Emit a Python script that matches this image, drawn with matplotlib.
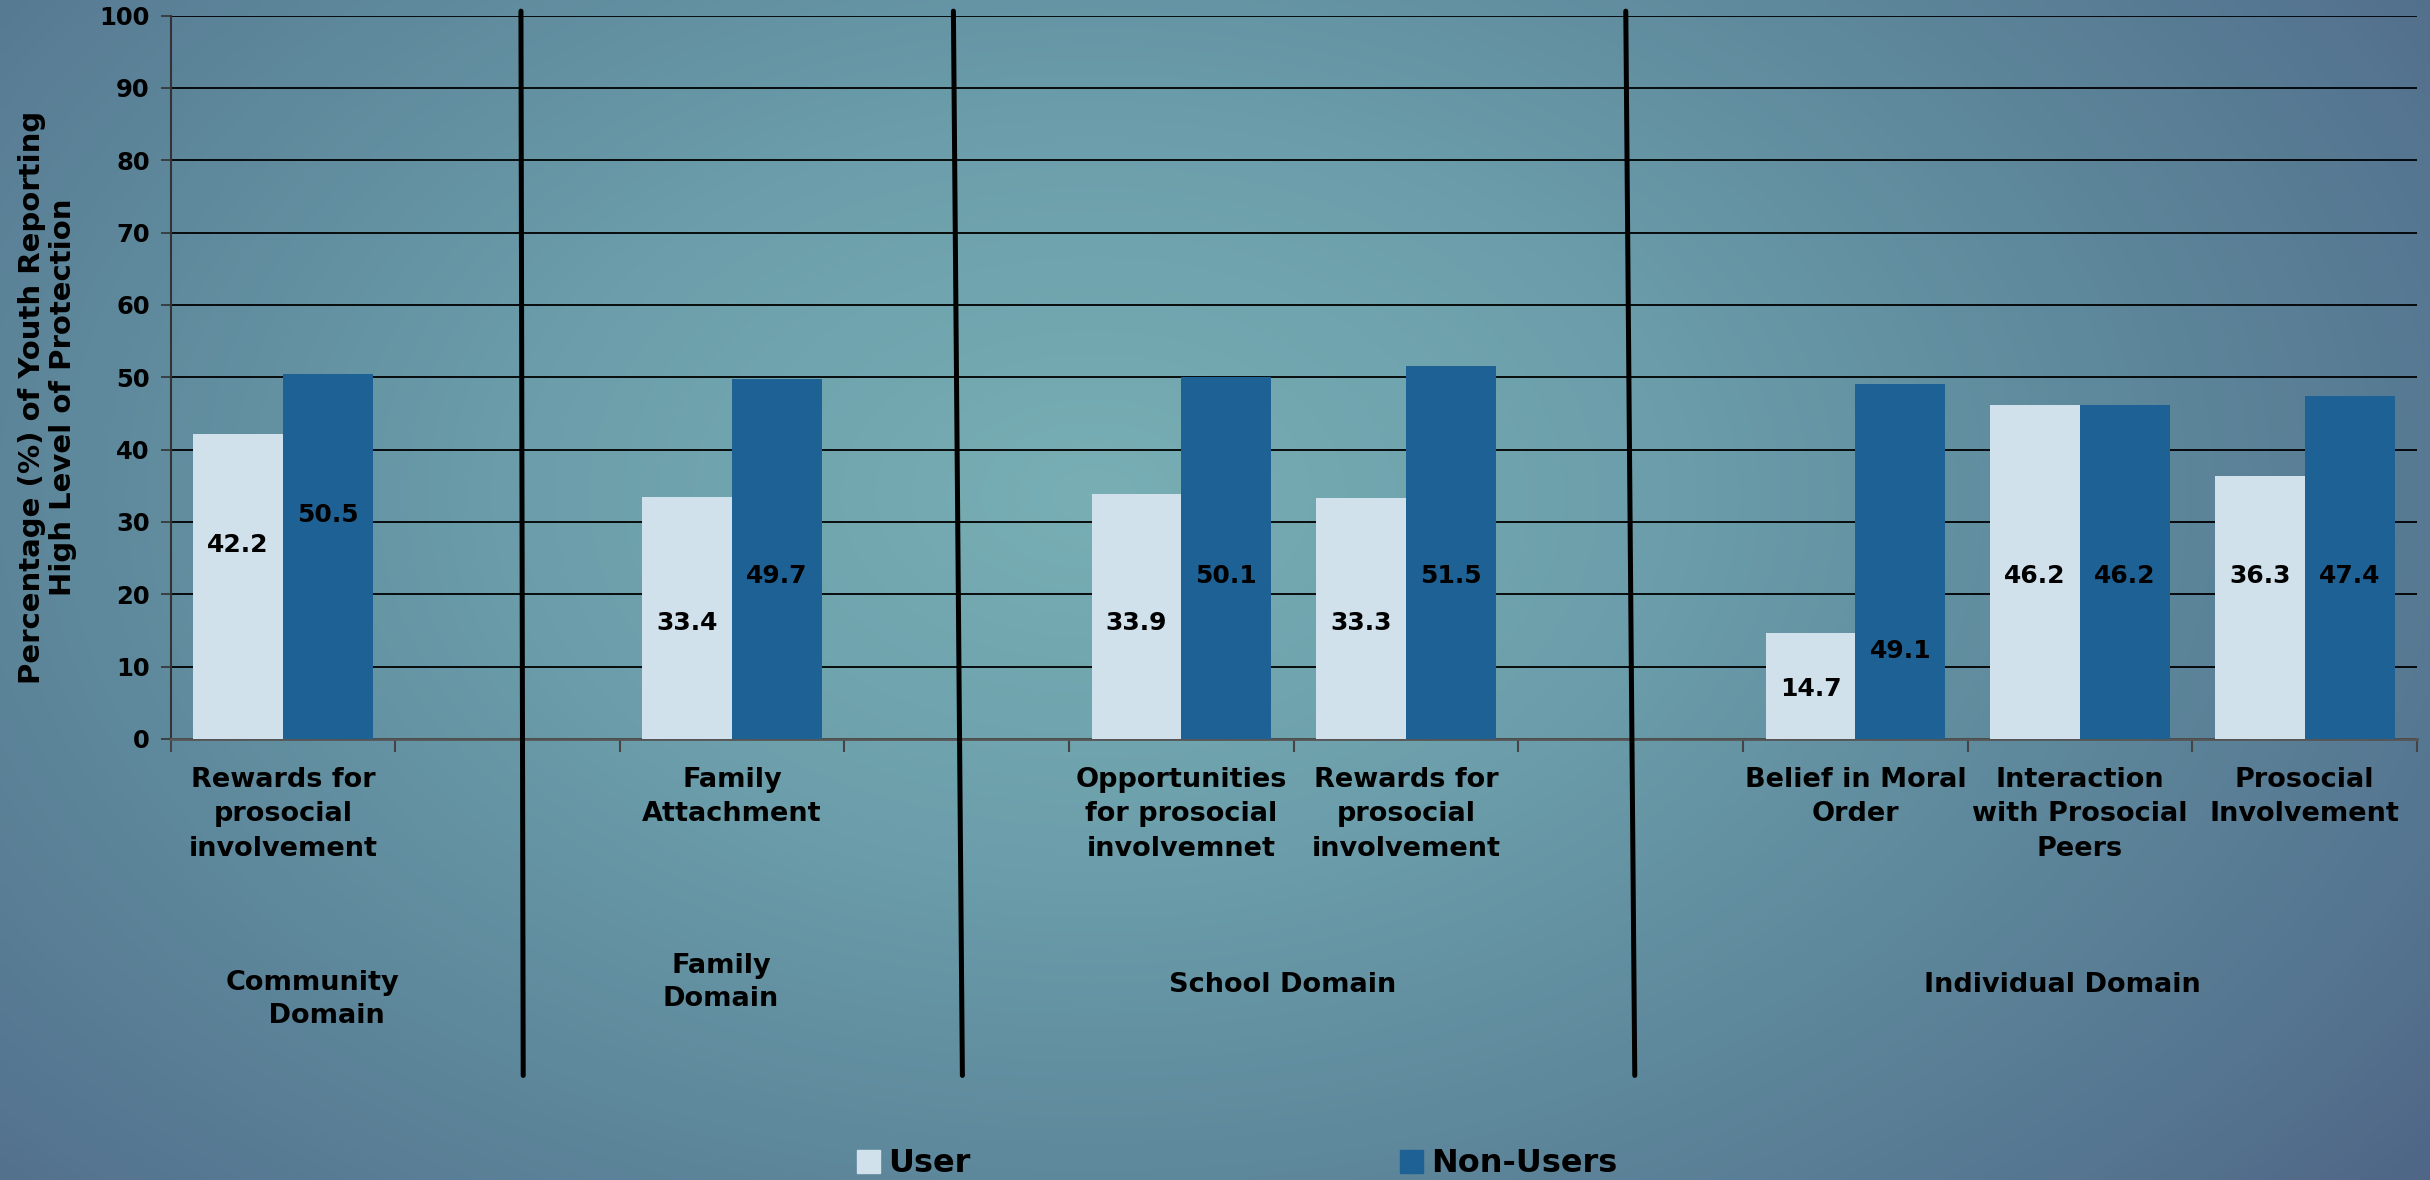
import numpy as np
import matplotlib
matplotlib.use("Agg")
import matplotlib.pyplot as plt
from matplotlib.patches import Patch
from matplotlib.colors import LinearSegmentedColormap

# ---------------- data ----------------
domains = ["Community\n   Domain", "Family\nDomain", "School Domain", "Individual Domain"]
domain_categories = [
    ["Rewards for\nprosocial\ninvolvement"],
    ["Family\nAttachment"],
    ["Opportunities\nfor prosocial\ninvolvemnet", "Rewards for\nprosocial\ninvolvement"],
    ["Belief in Moral\nOrder", "Interaction\nwith Prosocial\nPeers", "Prosocial\nInvolvement"],
]
user_values = [42.2, 33.4, 33.9, 33.3, 14.7, 46.2, 36.3]
nonuser_values = [50.5, 49.7, 50.1, 51.5, 49.1, 46.2, 47.4]
series_names = ["User", "Non-Users"]
y_ticks = [0, 10, 20, 30, 40, 50, 60, 70, 80, 90, 100]
y_label = "Percentage (%) of Youth Reporting\nHigh Level of Protection"

# ---------------- layout (slots: categories, one empty slot between domains) ----------------
positions = []
slot = 0
for d, cats in enumerate(domain_categories):
    for _ in cats:
        positions.append(slot + 0.5)
        slot += 1
    if d < len(domain_categories) - 1:
        slot += 1
n_slots = slot
positions = np.array(positions)
categories = [c for cats in domain_categories for c in cats]

FONT = "DejaVu Sans"
plt.rcParams["font.family"] = [FONT]
plt.rcParams["font.weight"] = "bold"

W, H, DPI = 24.3, 11.8, 100
fig = plt.figure(figsize=(W, H), dpi=DPI)

# background radial gradient
bg = fig.add_axes([0, 0, 1, 1], zorder=-10)
nx, ny = 486, 236
xx, yy = np.meshgrid(np.linspace(0, 1, nx), np.linspace(0, 1, ny))
cx, cy = 0.45, 0.42  # from top
r = np.sqrt(((xx - cx) / 0.74) ** 2 + ((yy - cy) / 1.0) ** 2)
r = np.clip(r, 0, 1)
cmap = LinearSegmentedColormap.from_list(
    "bgc", [(0.0, "#78aeb4"), (0.3, "#6c9fab"), (0.55, "#5f8a9d"),
            (0.8, "#557590"), (1.0, "#4d6082")])
bg.imshow(r, cmap=cmap, vmin=0, vmax=1, aspect="auto", extent=[0, 1, 0, 1],
          origin="upper", interpolation="bilinear")
bg.set_axis_off()

ax = fig.add_axes([170.5 / 2430, 441 / 1180, (2417 - 170.5) / 2430, 723.5 / 1180])
ax.set_facecolor("none")

bar_w = 0.4
user_color = "#d0e1eb"
nonuser_color = "#1e6195"
ax.bar(positions - bar_w / 2, user_values, width=bar_w, color=user_color, zorder=3,
       label=series_names[0])
ax.bar(positions + bar_w / 2, nonuser_values, width=bar_w, color=nonuser_color, zorder=3,
       label=series_names[1])

# value labels (manually placed heights as in the original slide)
user_label_y = [26.8, 16.0, 16.0, 16.0, 6.9, 22.5, 22.5]
nonuser_label_y = [31.0, 22.5, 22.5, 22.5, 12.2, 22.5, 22.5]
for x, v, ly in zip(positions, user_values, user_label_y):
    ax.text(x - bar_w / 2, ly, f"{v:.1f}", ha="center", va="center",
            fontsize=18, fontweight="bold", color="black", zorder=4)
for x, v, ly in zip(positions, nonuser_values, nonuser_label_y):
    ax.text(x + bar_w / 2, ly, f"{v:.1f}", ha="center", va="center",
            fontsize=18, fontweight="bold", color="black", zorder=4)

ax.set_xlim(0, n_slots)
ax.set_ylim(0, 100)
ax.set_yticks(y_ticks)
ax.set_yticklabels([str(t) for t in y_ticks], fontsize=17.5, fontweight="bold")
ax.yaxis.grid(True, color="black", linewidth=1.3, zorder=1)
ax.set_axisbelow(True)
ax.tick_params(axis="y", length=7, width=1.2, color="#333333", pad=8)

ax.set_xticks(positions)
ax.set_xticklabels(categories, fontsize=19.5, fontweight="bold", linespacing=1.42,
                   va="top")
ax.set_xticks(np.arange(0, n_slots + 1), minor=True)
ax.tick_params(axis="x", which="major", length=0, pad=20)
ax.tick_params(axis="x", which="minor", length=9, width=1.5, color="#444444")

for s in ["top", "right"]:
    ax.spines[s].set_visible(False)
ax.spines["left"].set_color("#333333")
ax.spines["left"].set_linewidth(1.5)
ax.spines["bottom"].set_color("#555555")
ax.spines["bottom"].set_linewidth(2)

ax.set_ylabel(y_label, fontsize=21, fontweight="bold", linespacing=1.15)
ax.yaxis.set_label_coords(-0.0415, 0.472)

# domain labels
dom_x = [0.63, 2.45, 4.95, 8.42]
dom_y = [-31.9, -29.6, -34.0, -34.0]
for name, dx, dy in zip(domains, dom_x, dom_y):
    ax.text(dx, dy, name, ha="center", va="top" if "\n" in name else "center",
            fontsize=19.5, fontweight="bold", linespacing=1.35, clip_on=False)

# domain separators (hand-drawn look, slightly tilted)
sep_top = [1.560, 3.485, 6.478]
sep_bot = [1.570, 3.525, 6.518]
for xt, xb in zip(sep_top, sep_bot):
    ax.plot([xt, xb], [100.6, -46.5], color="black", linewidth=3.6,
            solid_capstyle="round", clip_on=False, zorder=5)

# legend (two entries, positioned as in the slide)
leg_kw = dict(frameon=False, handlelength=0.72, handleheight=0.72, handletextpad=0.25,
              borderpad=0, borderaxespad=0, prop={"size": 23, "weight": "bold"})
l1 = fig.legend(handles=[Patch(color=user_color)], labels=[series_names[0]],
                loc="center left", bbox_to_anchor=(857 / 2430, 16 / 1180), **leg_kw)
l2 = fig.legend(handles=[Patch(color=nonuser_color)], labels=[series_names[1]],
                loc="center left", bbox_to_anchor=(1400 / 2430, 16 / 1180), **leg_kw)

fig.savefig("out.png", dpi=DPI)
